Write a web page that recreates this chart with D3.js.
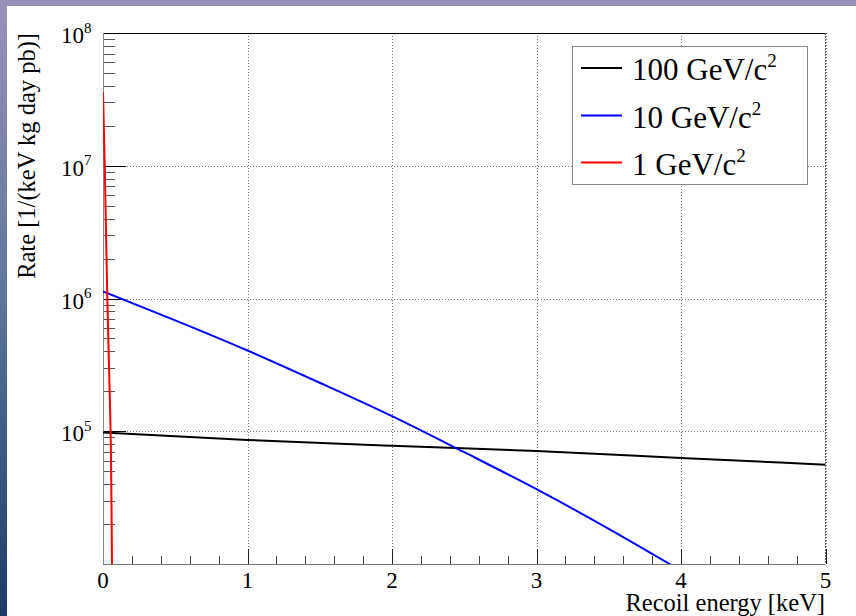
<!DOCTYPE html>
<html>
<head>
<meta charset="utf-8">
<script src="https://cdn.jsdelivr.net/npm/d3@7"></script>
<style>
  body { margin: 0; background: #fff; }
</style>
</head>
<body>
<div id="graph"></div>
<script>
// series data
let energy100 = [0, 1, 2, 3, 4, 5]
let rate100 = [9.8e4, 8.6e4, 7.76e4, 7.1e4, 6.3e4, 5.6e4]

let energy10 = [0, 0.5, 1, 1.5, 2, 2.5, 3, 3.5, 4]
let rate10 = [1.13e6, 6.85e5, 4.06e5, 2.32e5, 1.30e5, 6.95e4, 3.66e4, 1.84e4, 8.9e3]

let energy1 = [0, 0.005, 0.01, 0.015, 0.02, 0.025, 0.03, 0.035, 0.04, 0.045, 0.05, 0.055, 0.06, 0.065]
let rate1 = [3.6e7, 2.1e7, 1.25e7, 6.9e6, 3.6e6, 1.9e6, 1.0e6, 6.0e5, 3.6e5, 2.2e5, 1.35e5, 7.0e4, 2.0e4, 3.0e3]

let seriesNames = ["100 GeV/c", "10 GeV/c", "1 GeV/c"]
let seriesColors = ["#000000", "#0000ff", "#ff0000"]

let xTicks = [0, 1, 2, 3, 4, 5]
let yDecades = [1e5, 1e6, 1e7, 1e8]
let yExponents = ["5", "6", "7", "8"]

let W = 856, H = 616
let plot = {left: 103, right: 825.5, top: 33, bottom: 564}

let svg = d3.select("#graph")
  .append("svg")
  .attr("width", W)
  .attr("height", H)
  .attr("font-family", "'Liberation Serif', 'Times New Roman', serif")

// slide background strips
let defs = svg.append("defs")
let grad = defs.append("linearGradient")
  .attr("id", "side").attr("x1", 0).attr("y1", 0).attr("x2", 0).attr("y2", 1)
grad.append("stop").attr("offset", "0%").attr("stop-color", "#9a92bb")
grad.append("stop").attr("offset", "50%").attr("stop-color", "#5b739c")
grad.append("stop").attr("offset", "100%").attr("stop-color", "#1c3b69")
svg.append("rect").attr("x", 0).attr("y", 0).attr("width", W).attr("height", 6).attr("fill", "#9a92bb")
svg.append("rect").attr("x", 0).attr("y", 0).attr("width", 7).attr("height", H).attr("fill", "url(#side)")

defs.append("clipPath").attr("id", "clip")
  .append("rect")
  .attr("x", plot.left).attr("y", plot.top)
  .attr("width", plot.right - plot.left).attr("height", plot.bottom - plot.top)

let x = d3.scaleLinear().domain([0, 5]).range([plot.left, plot.right])
let y = d3.scaleLog().domain([1e4, 1e8]).range([plot.bottom, plot.top])

// grid
let grid = svg.append("g")
  .attr("stroke", "#777").attr("stroke-width", 1).attr("stroke-dasharray", "1,2")
grid.selectAll("line.gx")
  .data(xTicks.slice(1))
  .join("line")
  .attr("x1", d => Math.round(x(d)) + 0.5).attr("x2", d => Math.round(x(d)) + 0.5)
  .attr("y1", plot.top).attr("y2", plot.bottom)
grid.selectAll("line.gy")
  .data(yDecades.slice(0, 3))
  .join("line")
  .attr("x1", plot.left).attr("x2", plot.right)
  .attr("y1", d => Math.round(y(d)) + 0.5).attr("y2", d => Math.round(y(d)) + 0.5)

// x ticks (major + minor, inside)
let xMinor = d3.range(0, 5.001, 0.2).filter(v => Math.abs(v - Math.round(v)) > 1e-6)
svg.append("g").selectAll("line")
  .data(xMinor)
  .join("line")
  .attr("x1", d => Math.round(x(d)) + 0.5).attr("x2", d => Math.round(x(d)) + 0.5)
  .attr("y1", plot.bottom).attr("y2", plot.bottom - 8)
  .attr("stroke", "#444")
svg.append("g").selectAll("line")
  .data(xTicks)
  .join("line")
  .attr("x1", d => Math.round(x(d)) + 0.5).attr("x2", d => Math.round(x(d)) + 0.5)
  .attr("y1", plot.bottom).attr("y2", plot.bottom - 15)
  .attr("stroke", "#222")

// y ticks
let yMinor = []
;[1e4, 1e5, 1e6, 1e7].forEach(dec => {
  for (let k = 2; k <= 9; k++) yMinor.push(dec * k)
})
svg.append("g").selectAll("line")
  .data(yMinor)
  .join("line")
  .attr("x1", plot.left).attr("x2", plot.left + 12)
  .attr("y1", d => Math.round(y(d)) + 0.5).attr("y2", d => Math.round(y(d)) + 0.5)
  .attr("stroke", "#555")
svg.append("g").selectAll("line")
  .data(yDecades)
  .join("line")
  .attr("x1", plot.left).attr("x2", plot.left + 23)
  .attr("y1", d => Math.round(y(d)) + 0.5).attr("y2", d => Math.round(y(d)) + 0.5)
  .attr("stroke", "#000")

// frame
svg.append("line").attr("x1", plot.left).attr("x2", plot.right).attr("y1", plot.top + 0.5).attr("y2", plot.top + 0.5).attr("stroke", "#000")
svg.append("line").attr("x1", plot.left).attr("x2", plot.right).attr("y1", plot.bottom + 0.5).attr("y2", plot.bottom + 0.5).attr("stroke", "#777")
svg.append("line").attr("x1", plot.left + 0.5).attr("x2", plot.left + 0.5).attr("y1", plot.top).attr("y2", plot.bottom).attr("stroke", "#888")
svg.append("line").attr("x1", plot.right).attr("x2", plot.right).attr("y1", plot.top).attr("y2", plot.bottom).attr("stroke", "#666").attr("stroke-dasharray", "2,1")

// curves
let line = d3.line().x(d => x(d[0])).y(d => y(d[1])).curve(d3.curveMonotoneX)
let curves = [
  d3.zip(energy100, rate100),
  d3.zip(energy10, rate10),
  d3.zip(energy1, rate1)
]
svg.append("g").attr("clip-path", "url(#clip)")
  .selectAll("path")
  .data(curves)
  .join("path")
  .attr("d", line)
  .attr("fill", "none")
  .attr("stroke", (d, i) => seriesColors[i])
  .attr("stroke-width", 2)

// tick labels
svg.append("g").selectAll("text")
  .data(xTicks)
  .join("text")
  .attr("x", d => x(d))
  .attr("y", 588)
  .attr("text-anchor", "middle")
  .attr("font-size", 23)
  .text(d => d)

let yl = svg.append("g").selectAll("g")
  .data(yDecades)
  .join("g")
yl.append("text")
  .attr("x", 84).attr("y", d => y(d) + 10)
  .attr("text-anchor", "end")
  .attr("font-size", 23)
  .text("10")
yl.append("text")
  .attr("x", 84).attr("y", d => y(d) - 0.5)
  .attr("font-size", 15)
  .text((d, i) => yExponents[i])

// axis titles
svg.append("text")
  .attr("x", 825).attr("y", 611)
  .attr("text-anchor", "end")
  .attr("font-size", 24.5)
  .text("Recoil energy [keV]")
svg.append("text")
  .attr("transform", "translate(35,33) rotate(-90)")
  .attr("text-anchor", "end")
  .attr("font-size", 24.5)
  .text("Rate [1/(keV kg day pb)]")

// legend
let legend = svg.append("g")
legend.append("rect")
  .attr("x", 572.5).attr("y", 46.5).attr("width", 235).attr("height", 138)
  .attr("fill", "#fff").attr("stroke", "#888")
let entryY = [68, 115.5, 162.5]
let entries = legend.selectAll("g.entry")
  .data(seriesNames)
  .join("g")
entries.append("line")
  .attr("x1", 581).attr("x2", 622)
  .attr("y1", (d, i) => entryY[i]).attr("y2", (d, i) => entryY[i])
  .attr("stroke", (d, i) => seriesColors[i])
  .attr("stroke-width", 2)
let lt = entries.append("text")
  .attr("x", 632)
  .attr("y", (d, i) => entryY[i] + 12)
  .attr("font-size", 31)
lt.append("tspan").text(d => d)
lt.append("tspan").attr("dy", -13).attr("font-size", 19).text("2")
</script>
</body>
</html>
